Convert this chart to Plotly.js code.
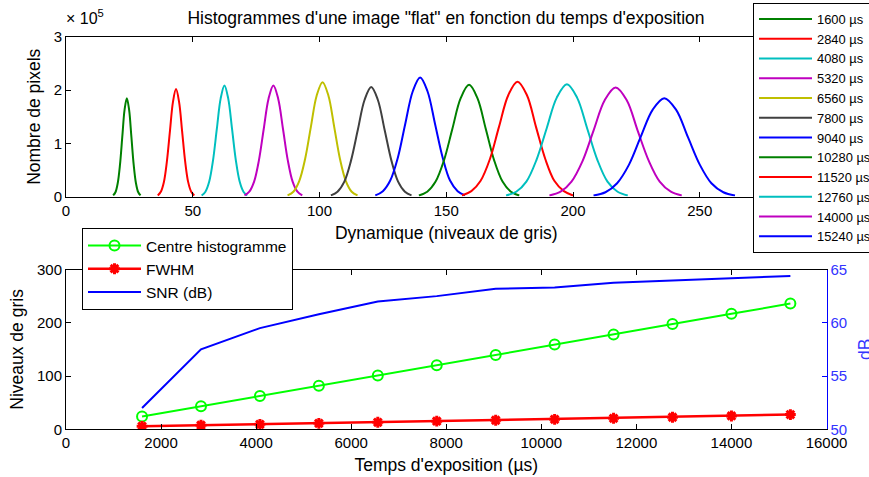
<!DOCTYPE html>
<html>
<head>
<meta charset="utf-8">
<script src="https://cdn.plot.ly/plotly-3.0.1.min.js"></script>
<style>html,body{margin:0;padding:0;background:#fff;overflow:hidden;}#chart{width:900px;height:477px;}</style>
</head>
<body>
<div id="chart"></div>
<script>
// ---------- Top: histograms (pixel counts in units of 10^5) ----------
const expoLabels = ['1600 µs','2840 µs','4080 µs','5320 µs','6560 µs','7800 µs','9040 µs','10280 µs','11520 µs','12760 µs','14000 µs','15240 µs'];

const h1x = [18.6,19.5,20.4,21.3,22.2,23.1,24.0,24.9,25.8,26.7,27.6,28.5,29.4];
const h1y = [0.02,0.08,0.25,0.60,1.12,1.63,1.85,1.63,1.12,0.60,0.25,0.08,0.02];
const h2x = [36.2,37.4,38.6,39.8,41.0,42.2,43.4,44.6,45.8,47.0,48.2,49.4,50.6];
const h2y = [0.02,0.09,0.27,0.66,1.23,1.78,2.02,1.78,1.23,0.66,0.27,0.09,0.02];
const h3x = [53.5,55.0,56.5,58.0,59.5,61.0,62.5,64.0,65.5,67.0,68.5,70.0,71.5];
const h3y = [0.02,0.09,0.28,0.68,1.27,1.84,2.09,1.84,1.27,0.68,0.28,0.09,0.02];
const h4x = [70.4,72.3,74.2,76.1,78.0,79.9,81.8,83.7,85.6,87.5,89.4,91.3,93.2];
const h4y = [0.02,0.09,0.28,0.68,1.27,1.84,2.09,1.84,1.27,0.68,0.28,0.09,0.02];
const h5x = [87.4,89.7,92.0,94.3,96.6,98.9,101.2,103.5,105.8,108.1,110.4,112.7,115.0];
const h5y = [0.02,0.09,0.29,0.70,1.31,1.90,2.15,1.90,1.31,0.70,0.29,0.09,0.02];
const h6x = [104.5,107.1,109.8,112.4,115.1,117.8,120.4,123.0,125.7,128.4,131.0,133.7,136.3];
const h6y = [0.02,0.09,0.28,0.67,1.25,1.82,2.06,1.82,1.25,0.67,0.28,0.09,0.02];
const h7x = [122.0,125.0,127.9,130.9,133.8,136.8,139.7,142.6,145.6,148.6,151.5,154.5,157.4];
const h7y = [0.02,0.10,0.30,0.73,1.36,1.98,2.24,1.98,1.36,0.73,0.30,0.10,0.02];
const h8x = [139.2,142.5,145.8,149.1,152.4,155.7,159.0,162.3,165.6,168.9,172.2,175.5,178.8];
const h8y = [0.02,0.09,0.28,0.68,1.27,1.85,2.10,1.85,1.27,0.68,0.28,0.09,0.02];
const h9x = [156.2,159.9,163.5,167.2,170.8,174.5,178.1,181.8,185.4,189.1,192.7,196.4,200.0];
const h9y = [0.02,0.10,0.29,0.70,1.31,1.91,2.16,1.91,1.31,0.70,0.29,0.10,0.02];
const h10x = [173.6,177.6,181.6,185.6,189.6,193.6,197.6,201.6,205.6,209.6,213.6,217.6,221.6];
const h10y = [0.02,0.09,0.28,0.69,1.28,1.86,2.11,1.86,1.28,0.69,0.28,0.09,0.02];
const h11x = [190.7,195.1,199.4,203.8,208.1,212.5,216.8,221.2,225.5,229.9,234.2,238.6,242.9];
const h11y = [0.02,0.09,0.28,0.67,1.24,1.81,2.05,1.81,1.24,0.67,0.28,0.09,0.02];
const h12x = [208.1,212.8,217.4,222.1,226.7,231.4,236.0,240.7,245.3,250.0,254.6,259.3,263.9];
const h12y = [0.02,0.08,0.25,0.60,1.12,1.63,1.85,1.63,1.12,0.60,0.25,0.08,0.02];

const histXs = [h1x,h2x,h3x,h4x,h5x,h6x,h7x,h8x,h9x,h10x,h11x,h12x];
const histYs = [h1y,h2y,h3y,h4y,h5y,h6y,h7y,h8y,h9y,h10y,h11y,h12y];

// ---------- Bottom: histogram statistics ----------
const times  = [1600,2840,4080,5320,6560,7800,9040,10280,11520,12760,14000,15240];
const centre = [24.0,43.4,62.5,81.8,101.2,120.4,139.7,159.0,178.1,197.6,216.8,236.0];
const fwhm   = [5.6,7.6,9.4,11.3,13.2,15.2,17.0,18.8,20.7,22.6,25.0,27.6];
const snrDb  = [52.0,57.5,59.5,60.8,62.0,62.5,63.2,63.3,63.75,63.95,64.15,64.4];

const topTicks = [0,50,100,150,200,250,300];
const countTicks = [0,1,2,3];
const timeTicks = [0,2000,4000,6000,8000,10000,12000,14000,16000];
const greyTicks = [0,100,200,300];
const dbTicks = [50,55,60,65];

// styles
const histColors = ['#008000','#ff0000','#00bfbf','#bf00bf','#bfbf00','#404040','#0000ff',
                    '#008000','#ff0000','#00bfbf','#bf00bf','#0000ff'];
const FONT = 'Liberation Sans, Arial, sans-serif';

const traces = [];
for (let i = 0; i < histXs.length; i++) {
  traces.push({
    x: histXs[i], y: histYs[i], type: 'scatter', mode: 'lines',
    name: expoLabels[i], xaxis: 'x', yaxis: 'y', legend: 'legend',
    line: {color: histColors[i], width: 2, shape: 'spline', smoothing: 1},
    hoverinfo: 'skip'
  });
}
traces.push({
  x: times, y: centre, type: 'scatter', mode: 'lines+markers', name: 'Centre histogramme',
  xaxis: 'x2', yaxis: 'y2', legend: 'legend2',
  line: {color: '#00ff00', width: 2},
  marker: {symbol: 'circle-open', size: 10, color: '#00ff00', line: {width: 2, color: '#00ff00'}}
});
traces.push({
  x: times, y: fwhm, type: 'scatter', mode: 'lines+markers', name: 'FWHM',
  xaxis: 'x2', yaxis: 'y2', legend: 'legend2',
  line: {color: '#ff0000', width: 2.5},
  marker: {symbol: 'asterisk-open', size: 9, color: '#ff0000', line: {width: 3, color: '#ff0000'}}
});
traces.push({
  x: times, y: snrDb, type: 'scatter', mode: 'lines', name: 'SNR (dB)',
  xaxis: 'x2', yaxis: 'y3', legend: 'legend2',
  line: {color: '#0000ff', width: 2}
});

// The figure is laid out on a 900 px wide canvas; the 869 px window crops its right edge
const W = 900, H = 477;
const xDom = [66/W, 826.5/W];
const axisCommon = {
  showgrid: false, zeroline: false, showline: true, linecolor: '#000', linewidth: 1,
  ticks: 'inside', ticklen: 5, tickcolor: '#000', tickwidth: 1,
  tickfont: {family: FONT, size: 15, color: '#000'}, fixedrange: true
};

const layout = {
  width: W, height: H,
  margin: {l: 0, r: 0, t: 0, b: 0},
  paper_bgcolor: '#fff', plot_bgcolor: '#fff',
  font: {family: FONT, color: '#000'},
  showlegend: true,
  title: {
    text: 'Histogrammes d\'une image "flat" en fonction du temps d\'exposition',
    font: {family: FONT, size: 17.5, color: '#000'},
    x: 446/W, xanchor: 'center', y: 1 - 18/H, yanchor: 'middle', xref: 'paper', yref: 'container'
  },
  xaxis: Object.assign({}, axisCommon, {
    domain: xDom, anchor: 'y', range: [0, 300], tickvals: topTicks, mirror: 'ticks',
    title: {text: 'Dynamique (niveaux de gris)', font: {family: FONT, size: 17.5}, standoff: 9}
  }),
  yaxis: Object.assign({}, axisCommon, {
    domain: [1 - 196.5/H, 1 - 37/H], anchor: 'x', range: [0, 3], tickvals: countTicks, mirror: 'ticks',
    title: {text: 'Nombre de pixels', font: {family: FONT, size: 17.5}, standoff: 8}
  }),
  xaxis2: Object.assign({}, axisCommon, {
    domain: xDom, anchor: 'y2', range: [0, 16000], tickvals: timeTicks, tickformat: 'd', mirror: 'ticks',
    title: {text: 'Temps d\'exposition (µs)', font: {family: FONT, size: 17.5}, standoff: 8}
  }),
  yaxis2: Object.assign({}, axisCommon, {
    domain: [1 - 429.3/H, 1 - 269.5/H], anchor: 'x2', range: [0, 300], tickvals: greyTicks,
    title: {text: 'Niveaux de gris', font: {family: FONT, size: 17.5}, standoff: 8}
  }),
  yaxis3: Object.assign({}, axisCommon, {
    overlaying: 'y2', anchor: 'x2', side: 'right', range: [50, 65], tickvals: dbTicks,
    linecolor: '#0000ff', tickcolor: '#0000ff',
    tickfont: {family: FONT, size: 15, color: '#3333ff'},
    title: {text: 'dB', font: {family: FONT, size: 17.5, color: '#3333ff'}, standoff: 12}
  }),
  legend: {
    x: 753/W, y: 1 - 3/H, xanchor: 'left', yanchor: 'top', xref: 'paper', yref: 'paper',
    bgcolor: '#fff', bordercolor: '#000', borderwidth: 1,
    font: {family: FONT, size: 12.9, color: '#000'}, itemwidth: 53, tracegroupgap: 0
  },
  legend2: {
    x: 82/W, y: 1 - 228/H, xanchor: 'left', yanchor: 'top', xref: 'paper', yref: 'paper',
    bgcolor: '#fff', bordercolor: '#000', borderwidth: 1,
    font: {family: FONT, size: 15.5, color: '#000'}, itemwidth: 53, tracegroupgap: 0
  },
  annotations: [{
    text: '× 10<sup>5</sup>', xref: 'paper', yref: 'paper',
    x: 64/W, y: 1 - 29/H, xanchor: 'left', yanchor: 'bottom', showarrow: false,
    font: {family: FONT, size: 16, color: '#000'}
  }]
};

Plotly.newPlot('chart', traces, layout, {displayModeBar: false, staticPlot: true});
</script>
</body>
</html>
